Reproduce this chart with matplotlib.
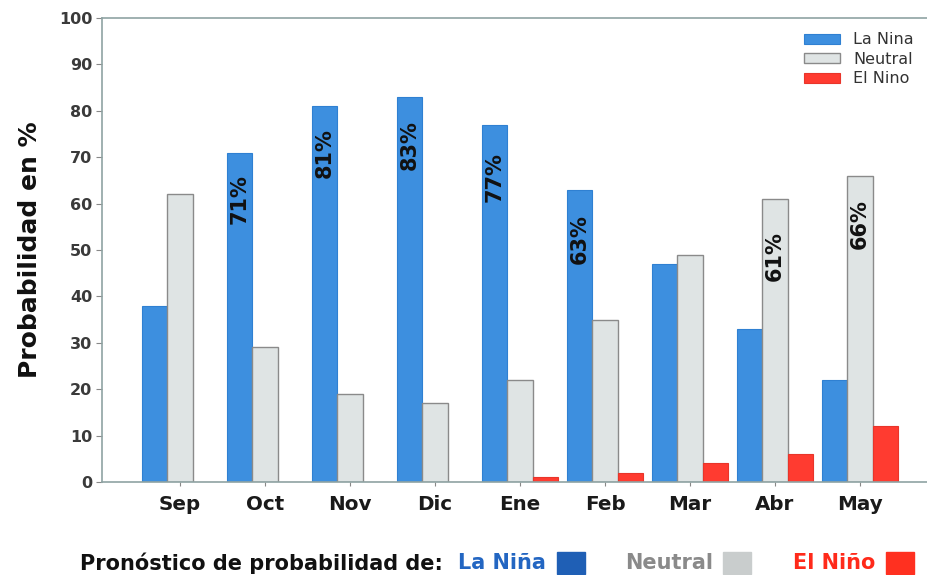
import matplotlib
matplotlib.use("Agg")
import matplotlib.pyplot as plt
import numpy as np
from matplotlib.patches import Rectangle

months = ["Sep", "Oct", "Nov", "Dic", "Ene", "Feb", "Mar", "Abr", "May"]
la_nina = [38, 71, 81, 83, 77, 63, 47, 33, 22]
neutral = [62, 29, 19, 17, 22, 35, 49, 61, 66]
el_nino = [0, 0, 0, 0, 1, 2, 4, 6, 12]
# labels inside bars: (month index, series, text)
bar_labels = [(1, "la", "71%"), (2, "la", "81%"), (3, "la", "83%"), (4, "la", "77%"),
              (5, "la", "63%"), (7, "ne", "61%"), (8, "ne", "66%")]
label_offsets = [4.7, 4.7, 5.0, 5.8, 5.2, 7.0, 5.0]

c_la = "#3d8fdf"
c_ne = "#dfe4e4"
c_el = "#ff3b30"
FONT = "DejaVu Sans"

fig = plt.figure(figsize=(9.28, 5.75), dpi=100)
ax = fig.add_axes([102/928, 93/575, 836/928, 464/575])

x = np.arange(len(months))
w = 0.3
ax.bar(x - w, la_nina, w, color=c_la, edgecolor="#2f80d2", linewidth=0.8, label="La Nina")
ax.bar(x, neutral, w, color=c_ne, edgecolor="#8a8a8a", linewidth=1.0, label="Neutral")
ax.bar(x + w, el_nino, w, color=c_el, edgecolor="#e8352a", linewidth=0.8, label="El Nino")

for (i, s, t), off in zip(bar_labels, label_offsets):
    if s == "la":
        xx, v = x[i] - w, la_nina[i]
    else:
        xx, v = x[i], neutral[i]
    ax.text(xx, v - off, t, rotation=90, ha="center", va="top",
            fontsize=15, fontweight="bold", color="#111111", family=FONT)

ax.set_xlim(-0.92, 8.92)
ax.set_ylim(0, 100)
ax.set_yticks(range(0, 101, 10))
ax.set_xticks(x)
ax.set_xticklabels(months, fontsize=14.3, fontweight="bold", family=FONT, color="#1a1a1a")
for lab in ax.get_yticklabels():
    lab.set_fontsize(11.5)
    lab.set_fontweight("bold")
    lab.set_color("#3a3a3a")
ax.tick_params(axis="x", length=3, color="#888888", pad=6)
ax.tick_params(axis="y", length=4, color="#888888", pad=3)
for sp in ax.spines.values():
    sp.set_color("#8fa3a3")
    sp.set_linewidth(1.2)

ax.set_ylabel("Probabilidad en %", fontsize=18, fontweight="bold", family=FONT,
              color="#111111", labelpad=12)

leg = ax.legend(loc="upper left", bbox_to_anchor=((805-7-102)/836, 0.983), frameon=False,
                fontsize=11.5, handlelength=2.2, handleheight=0.6, labelspacing=0.28,
                handletextpad=0.85, borderaxespad=0)
for t in leg.get_texts():
    t.set_color("#333333")

# bottom legend line
yb = 1 - 563/575
fs = 15
fig.text(80/928, yb, "Pronóstico de probabilidad de:", fontsize=fs, fontweight="bold",
         family=FONT, color="#111111", va="center", ha="left")
fig.text(458/928, yb, "La Niña", fontsize=fs, fontweight="bold", family=FONT,
         color="#2366c2", va="center", ha="left")
fig.text(625/928, yb, "Neutral", fontsize=fs, fontweight="bold", family=FONT,
         color="#8a8a8a", va="center", ha="left")
fig.text(793/928, yb, "El Niño", fontsize=fs, fontweight="bold", family=FONT,
         color="#ff2a1a", va="center", ha="left")
for x0, col in [(557, "#1f5fb5"), (723, "#c9cdcd"), (886, "#ff3020")]:
    fig.patches.append(Rectangle((x0/928, (575-574)/575), 28/928, 22/575,
                                 transform=fig.transFigure, color=col, zorder=3))

fig.savefig("out.png", dpi=100)
